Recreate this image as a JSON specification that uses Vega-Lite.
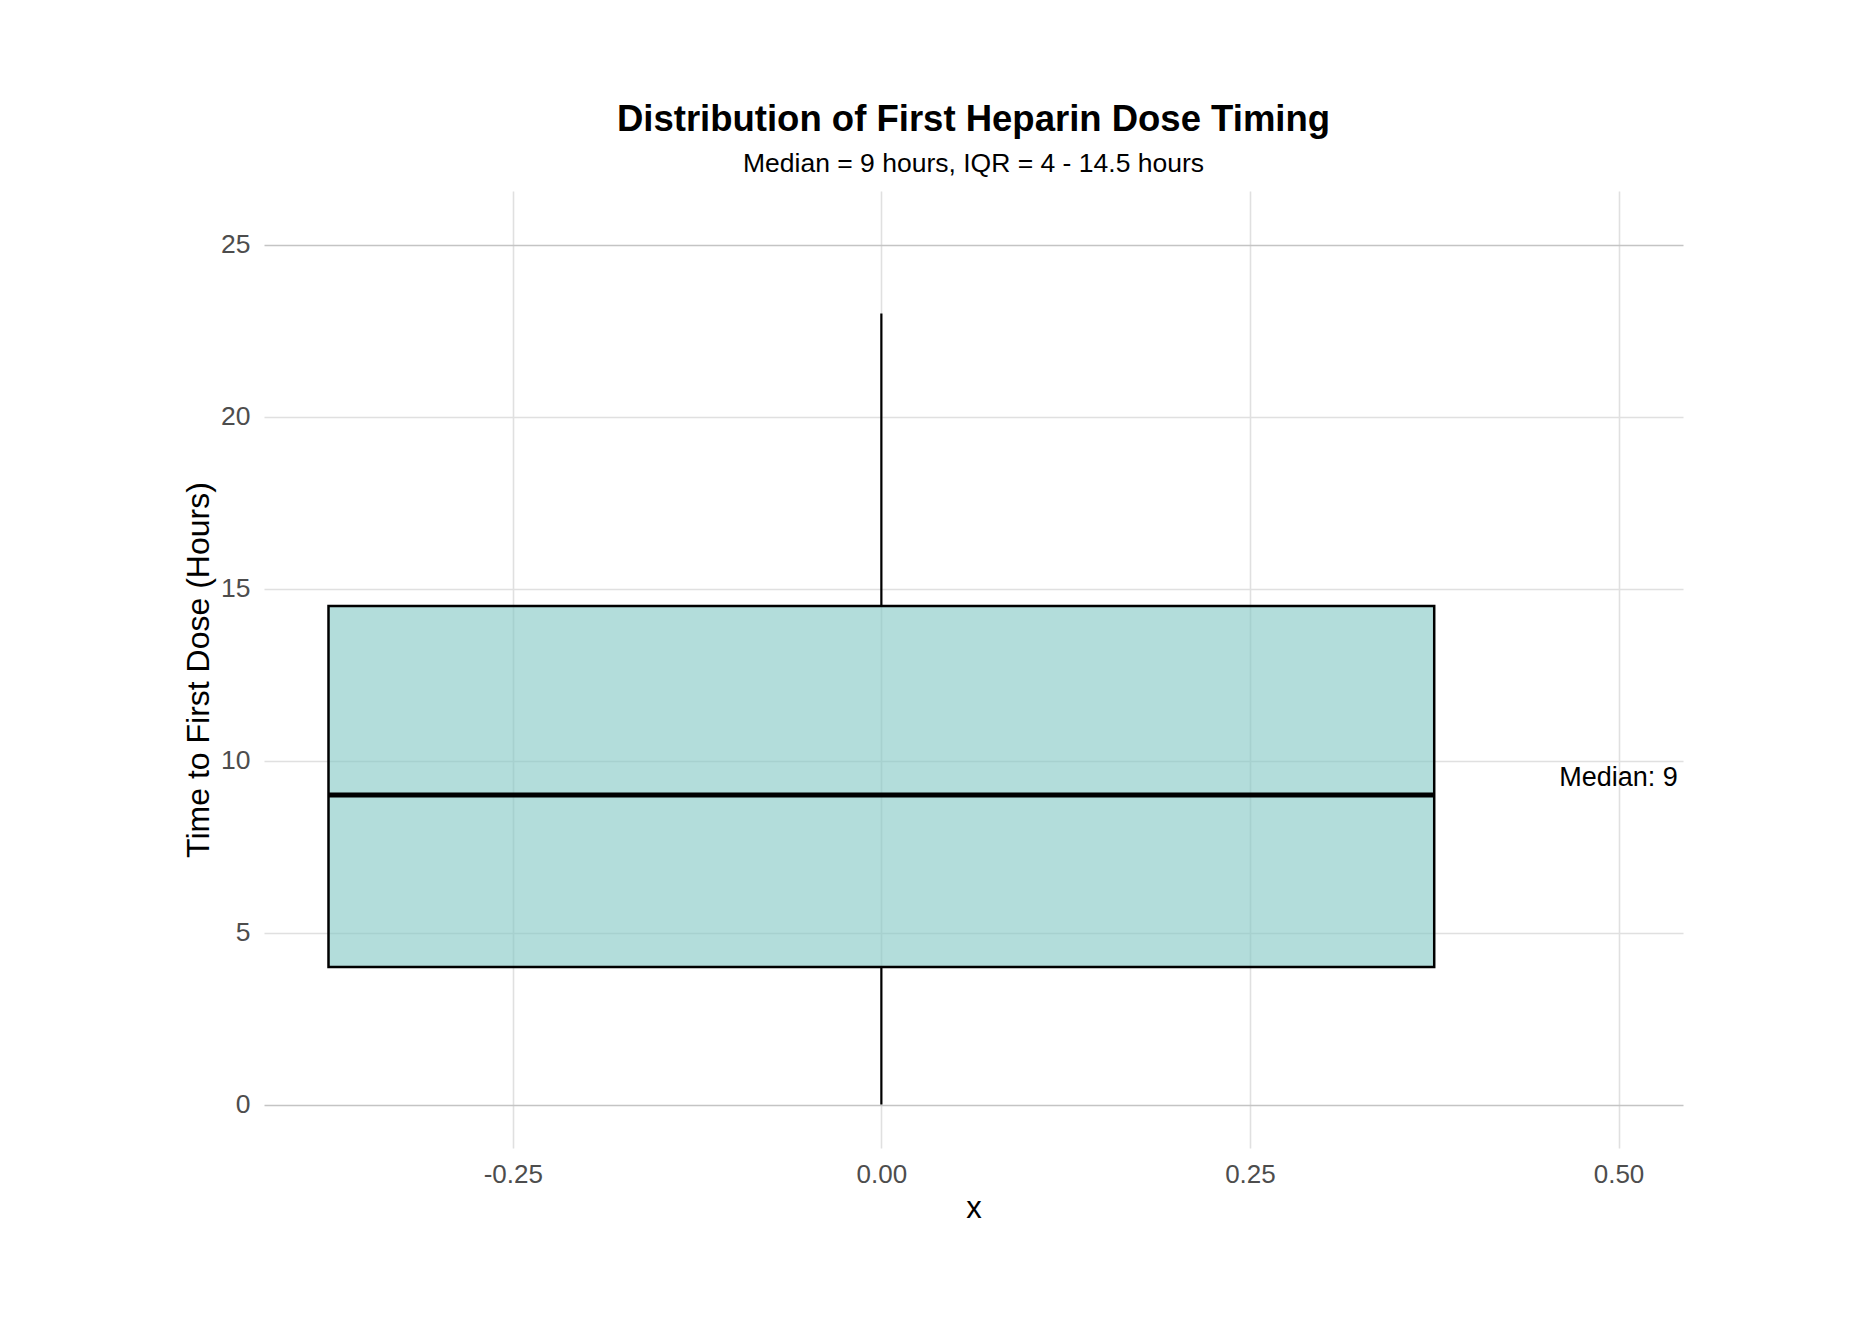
{
  "$schema": "https://vega.github.io/schema/vega-lite/v6.json",
  "autosize": {"type": "none"},
  "width": 1419,
  "height": 957,
  "padding": {"left": 264, "top": 191, "right": 188, "bottom": 175},
  "background": "white",
  "config": {
    "view": {"stroke": null},
    "font": "Liberation Sans"
  },
  "title": {
    "text": "Distribution of First Heparin Dose Timing",
    "subtitle": "Median = 9 hours, IQR = 4 - 14.5 hours",
    "anchor": "middle",
    "frame": "group",
    "font": "Liberation Sans",
    "fontSize": 36.5,
    "fontWeight": "bold",
    "color": "#000000",
    "subtitleFont": "Liberation Sans",
    "subtitleFontSize": 26.5,
    "subtitleColor": "#000000",
    "subtitlePadding": 12,
    "offset": 14
  },
  "data": {
    "values": [
      {"x0": -0.375, "x1": 0.375, "xc": 0, "lower": 0, "q1": 4, "median": 9, "q3": 14.5, "upper": 23}
    ]
  },
  "encoding": {},
  "layer": [
    {
      "mark": {"type": "rule", "color": "#000000", "strokeWidth": 2.2},
      "encoding": {
        "x": {
          "field": "xc", "type": "quantitative",
          "scale": {"domain": [-0.41875, 0.54375], "nice": false, "zero": false},
          "axis": {
            "title": "x",
            "values": [-0.25, 0, 0.25, 0.5],
            "labelExpr": "datum.value < 0 ? '-' + format(-datum.value, '.2f') : format(datum.value, '.2f')",
            "domain": false,
            "ticks": false,
            "labelFont": "Liberation Sans",
            "labelFontSize": 26,
            "labelColor": "#4d4d4d",
            "labelPadding": 13,
            "titleFont": "Liberation Sans",
            "titleFontSize": 31,
            "titleFontWeight": "normal",
            "titleColor": "#000000",
            "titlePadding": 6,
            "grid": true,
            "gridColor": "#e0e0e0",
            "gridWidth": 1.6
          }
        },
        "y": {
          "field": "lower", "type": "quantitative",
          "scale": {"domain": [-1.265, 26.565], "nice": false, "zero": false},
          "axis": {
            "title": "Time to First Dose (Hours)",
            "values": [0, 5, 10, 15, 20, 25],
            "domain": false,
            "ticks": false,
            "labelFont": "Liberation Sans",
            "labelFontSize": 26.5,
            "labelColor": "#4d4d4d",
            "labelPadding": 14,
            "titleFont": "Liberation Sans",
            "titleFontSize": 32,
            "titleFontWeight": "normal",
            "titleColor": "#000000",
            "titlePadding": 5,
            "grid": true,
            "gridColor": {"condition": {"test": "datum.value == 0 || datum.value == 25", "value": "#c4c4c4"}, "value": "#e0e0e0"},
            "gridWidth": 1.6
          }
        },
        "y2": {"field": "q1"}
      }
    },
    {
      "mark": {"type": "rule", "color": "#000000", "strokeWidth": 2.2},
      "encoding": {
        "x": {"field": "xc", "type": "quantitative"},
        "y": {"field": "q3", "type": "quantitative"},
        "y2": {"field": "upper"}
      }
    },
    {
      "mark": {"type": "rect", "fill": "#80c7c3", "fillOpacity": 0.6, "stroke": "#000000", "strokeWidth": 2.5},
      "encoding": {
        "x": {"field": "x0", "type": "quantitative"},
        "x2": {"field": "x1"},
        "y": {"field": "q1", "type": "quantitative"},
        "y2": {"field": "q3"}
      }
    },
    {
      "mark": {"type": "rule", "color": "#000000", "strokeWidth": 5},
      "encoding": {
        "x": {"field": "x0", "type": "quantitative"},
        "x2": {"field": "x1"},
        "y": {"field": "median", "type": "quantitative"}
      }
    },
    {
      "data": {"values": [{"label": "Median: 9", "lx": 0.5, "ly": 9.5}]},
      "mark": {"type": "text", "font": "Liberation Sans", "fontSize": 27, "color": "#000000", "align": "center", "baseline": "middle"},
      "encoding": {
        "x": {"field": "lx", "type": "quantitative"},
        "y": {"field": "ly", "type": "quantitative"},
        "text": {"field": "label", "type": "nominal"}
      }
    }
  ]
}
